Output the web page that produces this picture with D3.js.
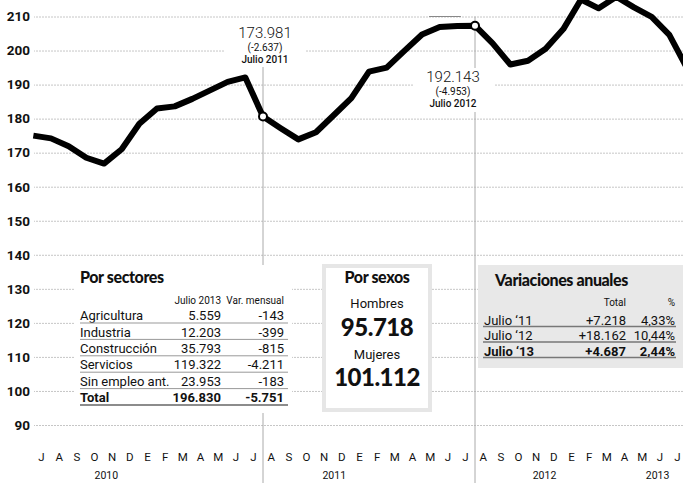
<!DOCTYPE html>
<html>
<head>
<meta charset="utf-8">
<script src="https://cdn.jsdelivr.net/npm/d3@7"></script>
<style>
  body { margin: 0; background: #fff; }
  svg { display: block; }
  text { font-family: Roboto, "DejaVu Sans", sans-serif; fill: #111; }
  .heavy { font-family: Lato, "Noto Sans", sans-serif; font-weight: 900; letter-spacing: -0.4px; }
</style>
</head>
<body>
<div id="chart"></div>
<script>
// paro registrado (miles), de junio 2010 a julio 2013
const paro = [175.0, 174.2, 171.9, 168.5, 166.8, 171.0, 178.5, 183.0, 183.6, 185.8, 188.3, 190.8, 192.1,
  180.6, 177.2, 173.9, 176.0, 181.0, 186.0, 193.8, 195.0, 199.9, 204.7, 206.9, 207.2,
  207.3, 202.1, 195.9, 197.0, 200.5, 206.3, 215.0, 212.4, 215.8, 212.7, 209.9, 204.6, 194.8];
const firstMonth = -1; // junio 2010, julio 2010 = 0

// etiquetas de meses, julio 2010 a julio 2013
const meses = ['J','A','S','O','N','D','E','F','M','A','M','J','J','A','S','O','N','D',
  'E','F','M','A','M','J','J','A','S','O','N','D','E','F','M','A','M','J','J'];
const anios = ['2010', '2011', '2012', '2013'];
const anioMes = [3.7, 16.6, 28.5, 34.9];

const yTicks = [90, 100, 110, 120, 130, 140, 150, 160, 170, 180, 190, 200, 210];

const destacados = [
  { mes: 12, valor: '173.981', variacion: '(-2.637)', fecha: 'Julio 2011' },
  { mes: 24, valor: '192.143', variacion: '(-4.953)', fecha: 'Julio 2012' }
];

const sectoresCab = ['Julio 2013', 'Var. mensual'];
const sectores = [
  ['Agricultura', '5.559', '-143'],
  ['Industria', '12.203', '-399'],
  ['Construcción', '35.793', '-815'],
  ['Servicios', '119.322', '-4.211'],
  ['Sin empleo ant.', '23.953', '-183'],
  ['Total', '196.830', '-5.751']
];

const sexos = [['Hombres', '95.718'], ['Mujeres', '101.112']];

const variacionesCab = ['Total', '%'];
const variaciones = [
  ['Julio ‘11', '+7.218', '4,33%'],
  ['Julio ‘12', '+18.162', '10,44%'],
  ['Julio ‘13', '+4.687', '2,44%']
];

const W = 683, H = 483;
const svg = d3.select('#chart').append('svg').attr('width', W).attr('height', H);

const x = d3.scaleLinear().domain([0, 36]).range([51, 687]);
const xLab = d3.scaleLinear().domain([0, 36]).range([41, 677]);
const y = d3.scaleLinear().domain([90, 210]).range([425, 16.5]);

// rejilla
const grid = svg.append('g')
  .attr('transform', `translate(${W},0)`)
  .call(d3.axisLeft(y).tickValues(yTicks).tickSize(W - 34).tickFormat(''));
grid.select('.domain').remove();
grid.selectAll('line').attr('stroke', '#b8b8b8').attr('stroke-width', 0.8).attr('stroke-dasharray', '2,1');

// etiquetas eje y
const yAxis = svg.append('g')
  .attr('transform', 'translate(34,0)')
  .call(d3.axisLeft(y).tickValues(yTicks).tickSize(0).tickPadding(4));
yAxis.select('.domain').remove();
yAxis.selectAll('text').style('font-size', '13.5px').style('font-weight', 700).attr('fill', '#111');

// pequeña marca sobre 210
svg.append('line')
  .attr('x1', x(21.4)).attr('x2', x(23.2))
  .attr('y1', y(210)).attr('y2', y(210))
  .attr('stroke', '#888').attr('stroke-width', 1);

// líneas verticales de referencia
svg.selectAll('.vline')
  .data(destacados)
  .enter().append('line')
  .attr('class', 'vline')
  .attr('x1', d => x(d.mes)).attr('x2', d => x(d.mes))
  .attr('y1', (d, i) => i === 0 ? 60 : y(210))
  .attr('y2', H)
  .attr('stroke', '#aaa').attr('stroke-width', 1);

// fondos de las anotaciones
svg.append('rect').attr('x', 225).attr('y', 22).attr('width', 80).attr('height', 45).attr('fill', '#fff');
svg.append('rect').attr('x', 413).attr('y', 68).attr('width', 81).attr('height', 44).attr('fill', '#fff');

// cajas
svg.append('rect').attr('x', 75).attr('y', 265).attr('width', 217).attr('height', 148).attr('fill', '#fff');
svg.append('rect').attr('x', 324).attr('y', 266).attr('width', 106).attr('height', 144)
  .attr('fill', '#fff').attr('stroke', '#e6e6e6').attr('stroke-width', 4);
svg.append('rect').attr('x', 478).attr('y', 265).attr('width', W - 478).attr('height', 103).attr('fill', '#e8e8e8');

// línea de paro
const serie = paro.map((v, i) => ({ m: i + firstMonth, v }));
const line = d3.line().x(d => x(d.m)).y(d => y(d.v));
svg.append('path')
  .datum(serie)
  .attr('d', line)
  .attr('fill', 'none')
  .attr('stroke', '#000')
  .attr('stroke-width', 6)
  .attr('stroke-linejoin', 'round');

svg.selectAll('.punto')
  .data(destacados)
  .enter().append('circle')
  .attr('class', 'punto')
  .attr('cx', d => x(d.mes))
  .attr('cy', d => y(paro[d.mes - firstMonth]))
  .attr('r', 4)
  .attr('fill', '#fff').attr('stroke', '#000').attr('stroke-width', 2);

// textos de las anotaciones
const anotPos = [{ cx: 265, top: 38 }, { cx: 453, top: 82 }];
destacados.forEach((d, i) => {
  const p = anotPos[i];
  svg.append('text').attr('x', p.cx).attr('y', p.top).attr('text-anchor', 'middle')
    .style('font-size', '15px').style('font-weight', 300).text(d.valor);
  svg.append('text').attr('x', p.cx).attr('y', p.top + 13).attr('text-anchor', 'middle')
    .style('font-size', '10px').text(d.variacion);
  svg.append('text').attr('x', p.cx).attr('y', p.top + 25).attr('text-anchor', 'middle')
    .style('font-size', '10px').style('font-weight', 500).text(d.fecha);
});

// eje x
const xAxis = svg.append('g')
  .attr('transform', 'translate(0,450)')
  .call(d3.axisBottom(xLab).tickValues(d3.range(37)).tickSize(0).tickFormat(i => meses[i]));
xAxis.select('.domain').remove();
xAxis.selectAll('text').style('font-size', '11.5px').attr('fill', '#111');

svg.selectAll('.anio')
  .data(anios)
  .enter().append('text')
  .attr('class', 'anio')
  .attr('x', (d, i) => xLab(anioMes[i]))
  .attr('y', 479)
  .attr('text-anchor', 'middle')
  .style('font-size', '10.5px')
  .text(d => d);

// Por sectores
svg.append('text').attr('class', 'heavy').attr('x', 80).attr('y', 283).style('font-size', '16px').text('Por sectores');
svg.selectAll('.scab')
  .data(sectoresCab)
  .enter().append('text')
  .attr('x', (d, i) => [221, 284][i]).attr('y', 303.5)
  .attr('text-anchor', 'end')
  .style('font-size', '10px')
  .text(d => d);

const rowH = 16.4;
sectores.forEach((r, i) => {
  const cy = 315.5 + i * rowH;
  const bold = i === sectores.length - 1;
  const g = svg.append('g').style('font-weight', bold ? 700 : 400);
  g.append('text').attr('x', 80).attr('y', cy + 4.7).style('font-size', '13px').text(r[0]);
  g.append('text').attr('x', 221).attr('y', cy + 4.7).attr('text-anchor', 'end').style('font-size', '13px').text(r[1]);
  g.append('text').attr('x', 284).attr('y', cy + 4.7).attr('text-anchor', 'end').style('font-size', '13px').text(r[2]);
  svg.append('line').attr('x1', 80).attr('x2', 288).attr('y1', cy + 7.5).attr('y2', cy + 7.5)
    .attr('stroke', bold ? '#666' : '#999').attr('stroke-width', bold ? 1.3 : 1);
});

// Por sexos
svg.append('text').attr('class', 'heavy').attr('x', 377).attr('y', 283).attr('text-anchor', 'middle')
  .style('font-size', '16px').text('Por sexos');
sexos.forEach((s, i) => {
  const base = 308 + i * 50.5;
  svg.append('text').attr('x', 377).attr('y', base).attr('text-anchor', 'middle')
    .style('font-size', '13px').attr('fill', '#222').text(s[0]);
  svg.append('text').attr('class', 'heavy').attr('x', 377).attr('y', base + 27.5).attr('text-anchor', 'middle')
    .style('font-size', '24px').style('letter-spacing', '-0.5px').text(s[1]);
});

// Variaciones anuales
svg.append('text').attr('class', 'heavy').attr('x', 495).attr('y', 285.5).style('font-size', '16px').text('Variaciones anuales');
svg.selectAll('.vcab')
  .data(variacionesCab)
  .enter().append('text')
  .attr('x', (d, i) => [626, 675][i]).attr('y', 305.5)
  .attr('text-anchor', 'end')
  .style('font-size', '10px').attr('fill', '#333')
  .text(d => d);

variaciones.forEach((r, i) => {
  const cy = 320 + i * 15.5;
  const bold = i === variaciones.length - 1;
  const g = svg.append('g').style('font-weight', bold ? 700 : 400);
  g.append('text').attr('x', 484).attr('y', cy + 4.7).style('font-size', '13px').text(r[0]);
  g.append('text').attr('x', 626).attr('y', cy + 4.7).attr('text-anchor', 'end').style('font-size', '13px').text(r[1]);
  g.append('text').attr('x', 675).attr('y', cy + 4.7).attr('text-anchor', 'end').style('font-size', '13px').text(r[2]);
  svg.append('line').attr('x1', 483).attr('x2', 676).attr('y1', cy + 6.5).attr('y2', cy + 6.5)
    .attr('stroke', '#777').attr('stroke-width', 1.3);
});
</script>
</body>
</html>
